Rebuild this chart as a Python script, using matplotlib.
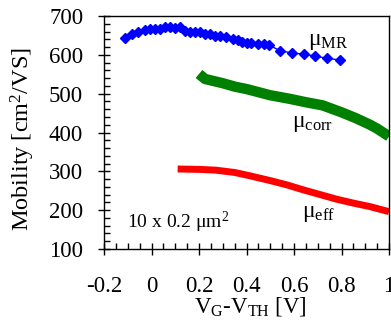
import numpy as np
import matplotlib
matplotlib.use('Agg')
import matplotlib.pyplot as plt
from matplotlib.ticker import MultipleLocator, FuncFormatter

plt.rcParams['font.family'] = ['Liberation Serif', 'DejaVu Serif']
plt.rcParams['mathtext.fontset'] = 'custom'
plt.rcParams['mathtext.rm'] = 'Liberation Serif'
plt.rcParams['mathtext.it'] = 'Liberation Serif:italic'

# mu_MR (blue diamonds)
vg_mr = [-0.11, -0.083, -0.055, -0.027, -0.006, 0.015, 0.036, 0.057, 0.078, 0.099,
         0.12, 0.141, 0.162, 0.183, 0.204, 0.225, 0.246, 0.267, 0.288, 0.315,
         0.343, 0.364, 0.38, 0.40, 0.42, 0.449, 0.474, 0.495, 0.541, 0.59,
         0.64, 0.69, 0.739, 0.794]
mu_mr = [643, 653, 658, 664, 668, 666, 668, 671, 672, 670,
         671, 662, 660, 660, 658, 655, 654, 649, 649, 646,
         642, 638, 634, 631, 630, 628, 628, 625, 611, 605,
         602, 597, 591, 587]

# mu_corr (green band)
vg_corr = [0.2, 0.225, 0.3, 0.352, 0.4, 0.5, 0.58, 0.65, 0.72, 0.8, 0.86, 0.92, 0.95, 1.0]
mu_corr = [551, 538, 527, 518, 512, 496, 487, 478, 470, 452, 437, 420, 410, 390]

# mu_eff (red band)
vg_eff = [0.11, 0.2, 0.27, 0.35, 0.41, 0.5, 0.57, 0.64, 0.71, 0.78, 0.85, 0.92, 1.0]
mu_eff = [306, 305, 303, 297, 289, 276, 265, 252, 240, 228, 218, 209, 196]

fig = plt.figure(figsize=(3.91, 3.22), dpi=100)
ax = fig.add_axes([0.266, 0.227, 0.729, 0.723])

ax.plot(vg_eff, mu_eff, '-', color='#ff0000', lw=5, solid_capstyle='butt')
ax.plot(vg_corr, mu_corr, '-', color='#008000', lw=7.5, solid_capstyle='butt')
ax.plot(vg_mr, mu_mr, '-D', color='#0000ff', lw=1, ms=5.5)

ax.set_xlim(-0.2, 1.0)
ax.set_ylim(100, 700)
ax.xaxis.set_major_locator(MultipleLocator(0.2))
ax.xaxis.set_minor_locator(MultipleLocator(0.05))
ax.yaxis.set_major_locator(MultipleLocator(100))
ax.yaxis.set_minor_locator(MultipleLocator(20))
ax.xaxis.set_major_formatter(FuncFormatter(lambda v, p: ('%g' % round(v, 2))))
ax.tick_params(which='major', direction='inout', length=9, width=1, labelsize=16.5)
ax.tick_params(which='minor', direction='in', length=4, width=1)
ax.tick_params(axis='x', which='major', pad=15)
ax.tick_params(axis='y', which='major', pad=10.5)
for s in ax.spines.values():
    s.set_linewidth(1)

ax.set_ylabel('Mobility [cm$^2$/VS]', fontsize=17.5)
ax.yaxis.set_label_coords(-0.235, 0.47)
ax.set_xlabel('V$_\\mathrm{G}$-V$_\\mathrm{TH}$ [V]', fontsize=16.5)
ax.xaxis.set_label_coords(0.512, -0.20)

ax.text(0.659, 625, '$\\mathrm{\\mu_{MR}}$', fontsize=17, va='baseline')
ax.text(0.592, 414, '$\\mathrm{\\mu_{corr}}$', fontsize=17, va='baseline')
ax.text(0.634, 182, '$\\mathrm{\\mu_{eff}}$', fontsize=17, va='baseline')
ax.text(-0.103, 154, '10 x 0.2 $\\mathrm{\\mu m^2}$', fontsize=14, va='baseline')

fig.savefig('out.png', dpi=100)
